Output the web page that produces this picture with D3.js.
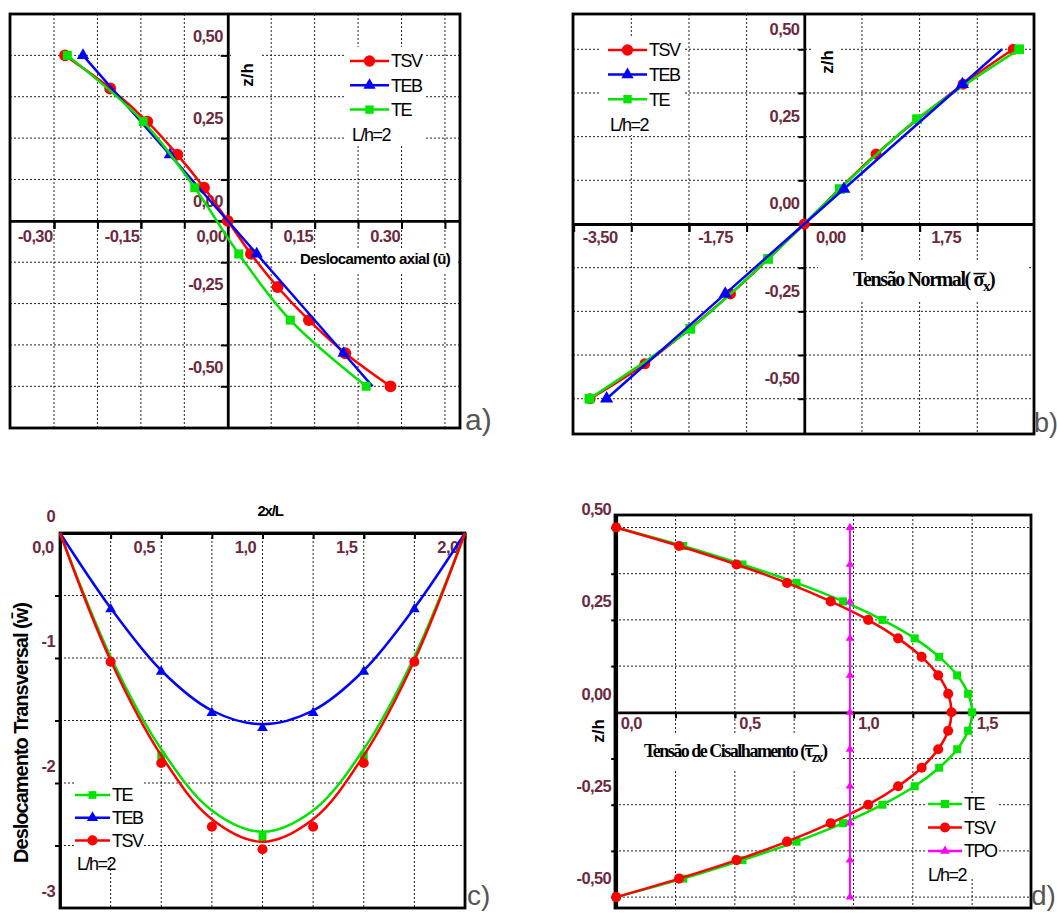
<!DOCTYPE html>
<html>
<head>
<meta charset="utf-8">
<script src="https://cdn.jsdelivr.net/npm/d3@7/dist/d3.min.js"></script>
<style>
  body { margin: 0; background: #fff; }
  svg { display: block; }
</style>
</head>
<body>
<script>
// a) deslocamento axial u x z/h
var aZ = [0.5, 0.4, 0.3, 0.2, 0.1, 0, -0.1, -0.2, -0.3, -0.4, -0.5];
var aTSV = [-0.281, -0.203, -0.139, -0.087, -0.041, 0, 0.040, 0.086, 0.140, 0.203, 0.281];
var aTEBZ = [0.5, 0.2, -0.1, -0.4, -0.5];
var aTEB = [-0.25, -0.10, 0.05, 0.20, 0.25];
var aTEZ = [0.5, 0.3, 0.1, -0.1, -0.3, -0.5];
var aTE = [-0.277, -0.146, -0.057, 0.019, 0.108, 0.239];
var aXTicks = [-0.30, -0.15, 0, 0.15, 0.30];
var aXTickText = ["-0,30", "-0,15", "0,00", "0,15", "0.30"];

// b) tensao normal x z/h
var bTSVZ = [-0.5, -0.4, -0.2, 0, 0.2, 0.4, 0.5];
var bTSV = [-3.25, -2.42, -1.12, 0, 1.09, 2.41, 3.17];
var bTEBZ = [-0.5, -0.2, 0.1, 0.4, 0.5];
var bTEB = [-3.0, -1.2, 0.6, 2.4, 3.0];
var bTEZ = [-0.5, -0.3, -0.1, 0.1, 0.3, 0.5];
var bTE = [-3.26, -1.73, -0.55, 0.54, 1.71, 3.26];
var bXTicks = [-3.5, -1.75, 0, 1.75];
var bXTickText = ["-3,50", "-1,75", "0,00", "1,75"];

var zTicks = [0.5, 0.25, 0, -0.25, -0.5];
var zTickText = ["0,50", "0,25", "0,00", "-0,25", "-0,50"];

// c) deslocamento transversal w x 2x/L
var cX = [0, 0.25, 0.5, 0.75, 1.0, 1.25, 1.5, 1.75, 2.0];
var cTSVLine = [0, -1.02, -1.78, -2.29, -2.47, -2.29, -1.78, -1.02, 0];
var cTELine = [0, -0.99, -1.73, -2.22, -2.39, -2.22, -1.73, -0.99, 0];
var cTEBLine = [0, -0.60, -1.10, -1.42, -1.53, -1.42, -1.10, -0.60, 0];
var cMarkX = [0.25, 0.5, 0.75, 1.0, 1.25, 1.5, 1.75];
var cTSVMark = [-1.03, -1.84, -2.35, -2.53, -2.35, -1.84, -1.03];
var cTEBMark = [-0.61, -1.11, -1.44, -1.56, -1.44, -1.11, -0.61];
var cTEMarkX = [0.5, 1.0, 1.5];
var cTEMark = [-1.78, -2.43, -1.78];
var cXTicks = [0, 0.5, 1, 1.5, 2];
var cXTickText = ["0,0", "0,5", "1,0", "1,5", "2,0"];
var cYTicks = [0, -1, -2, -3];
var cYTickText = ["0", "-1", "-2", "-3"];

// d) tensao de cisalhamento x z/h
var dZ = [0.5, 0.45, 0.4, 0.35, 0.3, 0.25, 0.2, 0.15, 0.1, 0.05, 0,
          -0.05, -0.1, -0.15, -0.2, -0.25, -0.3, -0.35, -0.4, -0.45, -0.5];
var dTSV = [0, 0.265, 0.507, 0.72, 0.904, 1.062, 1.188, 1.287, 1.357, 1.399, 1.413,
            1.399, 1.357, 1.287, 1.188, 1.062, 0.904, 0.72, 0.507, 0.265, 0];
var dTE = [0, 0.282, 0.532, 0.76, 0.956, 1.122, 1.258, 1.361, 1.437, 1.483, 1.50,
           1.483, 1.437, 1.361, 1.258, 1.122, 0.956, 0.76, 0.532, 0.282, 0];
var dTPOZ = [0.5, 0.4, 0.3, 0.2, 0.1, 0, -0.1, -0.2, -0.3, -0.4, -0.5];
var dTPO = [0.985, 0.985, 0.985, 0.985, 0.985, 0.985, 0.985, 0.985, 0.985, 0.985, 0.985];
var dXTicks = [0, 0.5, 1, 1.5];
var dXTickText = ["0,0", "0,5", "1,0", "1,5"];

var SANS = "'Liberation Sans', Arial, sans-serif";
var SERIF = "'Liberation Serif', 'Times New Roman', serif";
var LABEL_COLOR = "#6c2a40";

var colors = { TSV: "#ff0000", TEB: "#0000ff", TE: "#00e400", TPO: "#ff00ff" };
var shapes = { TSV: d3.symbolCircle, TEB: d3.symbolTriangle, TE: d3.symbolSquare, TPO: d3.symbolTriangle };

var svg = d3.select("body").append("svg").attr("width", 1057).attr("height", 913);

function richText(g, o) {
  var holder = g.append("g")
    .attr("transform", "translate(" + o.x + "," + o.y + ")" + (o.rotate ? " rotate(" + o.rotate + ")" : ""));
  var t = holder.append("text")
    .attr("text-anchor", o.anchor || "start")
    .attr("font-family", o.family || SANS)
    .attr("font-weight", o.weight || "normal")
    .attr("font-size", o.size)
    .attr("letter-spacing", o.spacing || 0)
    .attr("fill", o.fill || "#000");
  if (o.dy) t.attr("dy", o.dy);
  o.parts.forEach(function(p) {
    var s = t.append("tspan").text(p.t);
    if (p.dy) s.attr("dy", p.dy);
    if (p.size) s.attr("font-size", p.size);
    if (p.bar != null) {
      // barra sobre o simbolo (valor adimensional)
      var bb = s.node().getBBox();
      holder.append("line")
        .attr("x1", bb.x).attr("x2", bb.x + Math.max(bb.width, 8) + p.bar)
        .attr("y1", -0.62 * o.size).attr("y2", -0.62 * o.size)
        .attr("stroke", "#000").attr("stroke-width", 1.6);
    }
  });
  return t;
}

function drawPanel(p) {
  var g = svg.append("g");
  var L = p.box[0], T = p.box[1], R = p.box[2], B = p.box[3];
  var x = d3.scaleLinear().domain(p.xDomain).range([L, R]);
  var y = d3.scaleLinear().domain(p.yDomain).range([B, T]);

  // grade pontilhada
  g.append("g").selectAll("line").data(p.xGrid).join("line")
    .attr("x1", function(d) { return x(d); }).attr("x2", function(d) { return x(d); })
    .attr("y1", T).attr("y2", B)
    .attr("stroke", "#222").attr("stroke-width", 1).attr("stroke-dasharray", "2,2");
  g.append("g").selectAll("line").data(p.yGrid).join("line")
    .attr("y1", function(d) { return y(d); }).attr("y2", function(d) { return y(d); })
    .attr("x1", L).attr("x2", R)
    .attr("stroke", "#222").attr("stroke-width", 1).attr("stroke-dasharray", "2,2");

  // fundos brancos (legenda, titulos)
  g.append("g").selectAll("rect").data(p.patches).join("rect")
    .attr("x", function(d) { return d[0]; }).attr("y", function(d) { return d[1]; })
    .attr("width", function(d) { return d[2] - d[0]; }).attr("height", function(d) { return d[3] - d[1]; })
    .attr("fill", "#fff");

  g.append("rect").attr("x", L).attr("y", T).attr("width", R - L).attr("height", B - T)
    .attr("fill", "none").attr("stroke", "#000").attr("stroke-width", 2.8);

  // eixos com marcas
  var xAx = g.append("g").attr("transform", "translate(0," + y(0) + ")")
    .call(d3.axisBottom(x).tickValues(p.xGrid.concat(p.xTicks)).tickSize(p.xTickLen).tickSizeOuter(0).tickFormat(""));
  var yAx = g.append("g").attr("transform", "translate(" + x(0) + ",0)")
    .call(d3.axisLeft(y).tickValues(p.yGrid).tickSize(p.yTickLen).tickSizeOuter(0).tickFormat(""));
  [xAx, yAx].forEach(function(a) {
    a.select(".domain").attr("stroke", "#000").attr("stroke-width", 2.8);
    a.selectAll(".tick line").attr("stroke", "#000").attr("stroke-width", 2);
  });

  // rotulos dos eixos
  var xl = g.append("g").attr("transform", "translate(0," + y(0) + ")")
    .call(d3.axisBottom(x).tickValues(p.xTicks).tickSize(0).tickFormat(function(d, i) { return p.xTickText[i]; }));
  var yl = g.append("g").attr("transform", "translate(" + x(0) + ",0)")
    .call(d3.axisLeft(y).tickValues(p.yTicks).tickSize(0).tickFormat(function(d, i) { return p.yTickText[i]; }));
  xl.select(".domain").remove();
  yl.select(".domain").remove();
  xl.selectAll("text").attr("x", p.xLbl[0]).attr("y", p.xLbl[1]).attr("dy", "0.35em").attr("text-anchor", p.xLbl[2]);
  yl.selectAll("text").attr("x", p.yLbl[0]).attr("y", p.yLbl[1]).attr("dy", "0.35em").attr("text-anchor", "end");
  [xl, yl].forEach(function(a) {
    a.selectAll("text").attr("font-family", SANS).attr("font-weight", "bold").attr("font-size", 16.5)
      .attr("letter-spacing", -0.6).attr("fill", LABEL_COLOR);
  });

  p.titles.forEach(function(o) { richText(g, o); });

  // series
  var line = d3.line()
    .x(function(d) { return x(d[0]); })
    .y(function(d) { return y(d[1]); })
    .curve(d3.curveCatmullRom.alpha(0.5));

  p.series.forEach(function(s) {
    var pts = s.line[0].map(function(v, i) { return [v, s.line[1][i]]; });
    g.append("path").attr("d", line(pts)).attr("fill", "none")
      .attr("stroke", colors[s.name]).attr("stroke-width", s.width || 2.5);
    var mk = s.marks[0].map(function(v, i) { return [v, s.marks[1][i]]; });
    g.append("g").selectAll("path").data(mk).join("path")
      .attr("transform", function(d) { return "translate(" + x(d[0]) + "," + y(d[1]) + ")"; })
      .attr("d", d3.symbol(shapes[s.name], s.size))
      .attr("fill", colors[s.name]);
  });

  // legenda
  var lg = p.legend;
  lg.items.forEach(function(name, i) {
    var ly = lg.y + i * lg.dy;
    g.append("line").attr("x1", lg.x).attr("x2", lg.x + lg.len).attr("y1", ly).attr("y2", ly)
      .attr("stroke", colors[name]).attr("stroke-width", 2.5);
    g.append("path").attr("transform", "translate(" + (lg.x + lg.len / 2) + "," + ly + ")")
      .attr("d", d3.symbol(shapes[name], lg.sizes[name])).attr("fill", colors[name]);
    g.append("text").attr("x", lg.x + lg.len + 2).attr("y", ly).attr("dy", "0.35em")
      .attr("font-family", SANS).attr("font-size", 18).attr("letter-spacing", -1.5).text(name);
  });
  g.append("text").attr("x", lg.note[0]).attr("y", lg.note[1]).attr("dy", "0.35em")
    .attr("font-family", SANS).attr("font-size", 18).attr("letter-spacing", -1.5).text("L/h=2");

  g.append("text").attr("x", p.tag[0]).attr("y", p.tag[1])
    .attr("font-family", SANS).attr("font-size", p.tag[3]).attr("fill", "#555").text(p.tag[2]);
}

var zGrid = [-0.5, -0.375, -0.25, -0.125, 0.125, 0.25, 0.375, 0.5];

drawPanel({
  box: [10, 14, 460, 428],
  xDomain: [-0.376, 0.401], yDomain: [-0.626, 0.625],
  xGrid: [-0.3, -0.225, -0.15, -0.075, 0.075, 0.15, 0.225, 0.3, 0.375],
  yGrid: zGrid,
  xTicks: aXTicks, xTickText: aXTickText, yTicks: zTicks, yTickText: zTickText,
  xTickLen: 8, yTickLen: 7,
  xLbl: [-2, 15, "end"], yLbl: [-5, -20],
  patches: [[231, 48, 261, 95], [297, 249, 457, 272], [345, 47, 425, 145]],
  titles: [
    { x: 247, y: 75, rotate: -90, anchor: "middle", dy: "0.35em", size: 17, weight: "bold", parts: [{ t: "z/h" }] },
    { x: 300, y: 264, size: 15, weight: "bold", spacing: -0.6, parts: [{ t: "Deslocamento axial (ū)" }] }
  ],
  series: [
    { name: "TSV", line: [aTSV, aZ], marks: [aTSV, aZ], size: 110 },
    { name: "TEB", line: [aTEB, aTEBZ], marks: [aTEB.slice(0, 4), aTEBZ.slice(0, 4)], size: 65 },
    { name: "TE", line: [aTE, aTEZ], marks: [aTE, aTEZ], size: 81 }
  ],
  legend: { items: ["TSV", "TEB", "TE"], x: 350, y: 61, dy: 24.3, len: 39,
            sizes: { TSV: 100, TEB: 65, TE: 70 }, note: [352, 135] },
  tag: [465, 430, "a)", 30]
});

drawPanel({
  box: [573, 14, 1034, 434],
  xDomain: [-3.51, 3.486], yDomain: [-0.601, 0.601],
  xGrid: [-2.625, -1.75, -0.875, 0.875, 1.75, 2.625],
  yGrid: zGrid,
  xTicks: bXTicks, xTickText: bXTickText, yTicks: zTicks, yTickText: zTickText,
  xTickLen: 8, yTickLen: 6,
  xLbl: [26, 13, "middle"], yLbl: [-5, -21],
  patches: [[812, 40, 840, 85], [818, 262, 1028, 300], [600, 38, 685, 135]],
  titles: [
    { x: 827, y: 62, rotate: -90, anchor: "middle", dy: "0.35em", size: 17, weight: "bold", parts: [{ t: "z/h" }] },
    { x: 853, y: 286, size: 20, weight: "bold", family: SERIF, spacing: -1.4,
      parts: [{ t: "Tensão Normal( " }, { t: "σ", bar: 2 }, { t: "x", dy: 5, size: 15 }, { t: ")", dy: -5 }] }
  ],
  series: [
    { name: "TSV", line: [bTSV, bTSVZ], marks: [bTSV, bTSVZ], size: 95 },
    { name: "TE", line: [bTE, bTEZ], marks: [bTE, bTEZ], size: 95 },
    { name: "TEB", line: [bTEB, bTEBZ], marks: [bTEB.slice(0, 4), bTEBZ.slice(0, 4)], size: 75 }
  ],
  legend: { items: ["TSV", "TEB", "TE"], x: 608, y: 50, dy: 24.6, len: 39,
            sizes: { TSV: 100, TEB: 65, TE: 70 }, note: [610, 125] },
  tag: [1034, 432, "b)", 27]
});

drawPanel({
  box: [60, 533, 465, 908],
  xDomain: [0, 2], yDomain: [-3, 0],
  xGrid: [0.25, 0.5, 0.75, 1.0, 1.25, 1.5, 1.75],
  yGrid: [-0.5, -1, -1.5, -2, -2.5],
  xTicks: cXTicks, xTickText: cXTickText, yTicks: cYTicks, yTickText: cYTickText,
  xTickLen: 6, yTickLen: 5,
  xLbl: [-7, 14, "end"], yLbl: [-5, -17],
  patches: [[75, 780, 143, 857]],
  titles: [
    { x: 270, y: 511, anchor: "middle", dy: "0.35em", size: 15, weight: "bold", spacing: -1.2, parts: [{ t: "2x/L" }] },
    { x: 21, y: 733, rotate: -90, anchor: "middle", dy: "0.35em", size: 20, weight: "bold", spacing: -1,
      parts: [{ t: "Deslocamento Transversal (w̄)" }] }
  ],
  series: [
    { name: "TE", line: [cX, cTELine], marks: [cTEMarkX, cTEMark], size: 64 },
    { name: "TEB", line: [cX, cTEBLine], marks: [cMarkX, cTEBMark], size: 50 },
    { name: "TSV", line: [cX, cTSVLine], marks: [cMarkX, cTSVMark], size: 80 }
  ],
  legend: { items: ["TE", "TEB", "TSV"], x: 75, y: 795, dy: 22.7, len: 35,
            sizes: { TSV: 80, TEB: 55, TE: 60 }, note: [77, 864] },
  tag: [467, 905, "c)", 28]
});

drawPanel({
  box: [615, 515, 1031, 908],
  xDomain: [-0.005, 1.748], yDomain: [-0.5295, 0.5338],
  xGrid: [0.25, 0.5, 0.75, 1.0, 1.25, 1.5],
  yGrid: zGrid,
  xTicks: dXTicks, xTickText: dXTickText, yTicks: zTicks, yTickText: zTickText,
  xTickLen: 6, yTickLen: 5,
  xLbl: [4, 11, "start"], yLbl: [-5, -19],
  patches: [[617, 733, 842, 770], [926, 795, 997, 877]],
  titles: [
    { x: 598, y: 731, rotate: -90, anchor: "middle", dy: "0.35em", size: 17, weight: "bold", parts: [{ t: "z/h" }] },
    { x: 644, y: 757, size: 18, weight: "bold", family: SERIF, spacing: -1.5,
      parts: [{ t: "Tensão de Cisalhamento (" }, { t: "τ", bar: 5 }, { t: "zx", dy: 5, size: 14 }, { t: ")", dy: -5 }] }
  ],
  series: [
    { name: "TE", line: [dTE, dZ], marks: [dTE, dZ], size: 64 },
    { name: "TSV", line: [dTSV, dZ], marks: [dTSV, dZ], size: 80 },
    { name: "TPO", line: [dTPO, dTPOZ], marks: [dTPO, dTPOZ], size: 30, width: 2 }
  ],
  legend: { items: ["TE", "TSV", "TPO"], x: 928, y: 804, dy: 23.5, len: 34,
            sizes: { TE: 64, TSV: 80, TPO: 40 }, note: [928, 875] },
  tag: [1031, 905, "d)", 28]
});
</script>
</body>
</html>
